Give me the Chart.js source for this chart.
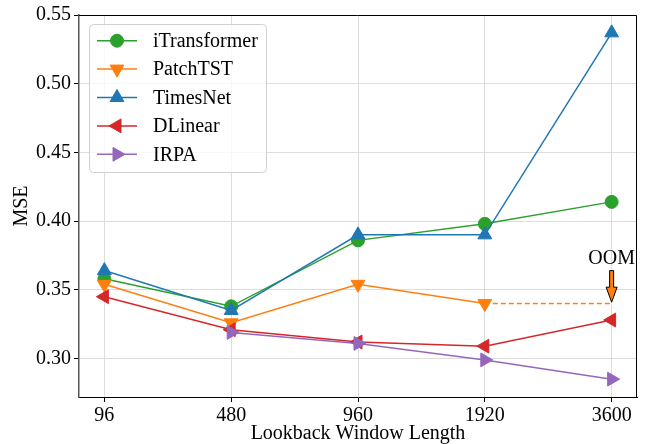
<!DOCTYPE html>
<html>
<head>
<meta charset="utf-8">
<script src="https://cdn.jsdelivr.net/npm/chart.js@4"></script>
<style>
  html, body { margin: 0; padding: 0; background: #fff; }
  #wrap { width: 646px; height: 444px; }
</style>
</head>
<body>
<div id="wrap"><canvas id="c" width="646" height="444"></canvas></div>
<script>
const lookback = ['96', '480', '960', '1920', '3600'];
const yTicks = [0.30, 0.35, 0.40, 0.45, 0.50, 0.55];

const iTransformer = [0.358, 0.338, 0.386, 0.398, 0.414];
const patchTST = [0.354, 0.326, 0.354, 0.340, null];
const patchTSTOom = [null, null, null, 0.340, 0.340]; // dashed, ran out of memory at 3600
const timesNet = [0.364, 0.335, 0.390, 0.390, 0.537];
const dLinear = [0.345, 0.321, 0.312, 0.309, 0.328];
const irpa = [null, 0.319, 0.311, 0.299, 0.285];

const oomLabel = 'OOM';
const oomArrow = {index: 4, from: 0.364, to: 0.341};

const FONT = '"Liberation Serif", "Times New Roman", serif';

function pts(arr) {
  return arr.map((v, i) => ({x: i, y: v}));
}

function series(label, data, color, style, rotation, radius, order) {
  return {
    label, data: pts(data),
    borderColor: color, backgroundColor: color,
    borderWidth: 1.5,
    pointStyle: style, rotation,
    pointRadius: radius, pointHoverRadius: radius,
    pointBorderWidth: 1,
    order
  };
}

const datasets = [
  series('iTransformer', iTransformer, '#2ca02c', 'circle', 0, 6.5, 5),
  series('PatchTST', patchTST, '#ff7f0e', 'triangle', 180, 8, 4),
  series('TimesNet', timesNet, '#1f77b4', 'triangle', 0, 8, 3),
  series('DLinear', dLinear, '#d62728', 'triangle', -90, 8, 2),
  series('IRPA', irpa, '#9467bd', 'triangle', 90, 8, 1),
  {
    label: '_oom', data: pts(patchTSTOom),
    borderColor: '#ff7f0e', borderWidth: 1.5, borderDash: [5, 3],
    pointRadius: 0, order: 6
  }
];

// matplotlib-style legend inside the plot + frame + OOM arrow
const extras = {
  id: 'extras',
  afterDraw(chart) {
    const {ctx, chartArea: a, scales: {x, y}} = chart;
    ctx.save();
    // top / right spines
    ctx.strokeStyle = '#000';
    ctx.lineWidth = 1;
    ctx.beginPath();
    ctx.moveTo(a.left, a.top + 0.5);
    ctx.lineTo(a.right - 0.5, a.top + 0.5);
    ctx.lineTo(a.right - 0.5, a.bottom);
    ctx.stroke();

    // OOM arrow
    const ax = x.getPixelForValue(oomArrow.index);
    const y0 = y.getPixelForValue(oomArrow.from);
    const y1 = y.getPixelForValue(oomArrow.to);
    const headH = 15, headW = 5.5, shaftW = 2;
    ctx.beginPath();
    ctx.moveTo(ax - shaftW, y0);
    ctx.lineTo(ax + shaftW, y0);
    ctx.lineTo(ax + shaftW, y1 - headH);
    ctx.lineTo(ax + headW, y1 - headH);
    ctx.lineTo(ax, y1);
    ctx.lineTo(ax - headW, y1 - headH);
    ctx.lineTo(ax - shaftW, y1 - headH);
    ctx.closePath();
    ctx.fillStyle = '#ff7f0e';
    ctx.fill();
    ctx.strokeStyle = '#000';
    ctx.lineWidth = 1;
    ctx.stroke();
    ctx.fillStyle = '#000';
    ctx.font = '20px ' + FONT;
    ctx.textAlign = 'center';
    ctx.textBaseline = 'alphabetic';
    ctx.fillText(oomLabel, ax, y0 - 7);

    // legend
    const lx = 89, ly = 24, lw = 177, lh = 148, rowH = 28.4;
    ctx.beginPath();
    ctx.roundRect(lx + 0.5, ly + 0.5, lw, lh, 4);
    ctx.fillStyle = 'rgba(255,255,255,0.8)';
    ctx.fill();
    ctx.strokeStyle = '#d0d0d0';
    ctx.stroke();
    ctx.textAlign = 'left';
    ctx.textBaseline = 'middle';
    chart.data.datasets.slice(0, 5).forEach((ds, i) => {
      const cy = ly + 16.7 + i * rowH;
      ctx.strokeStyle = ds.borderColor;
      ctx.lineWidth = 1.5;
      ctx.beginPath();
      ctx.moveTo(lx + 8, cy);
      ctx.lineTo(lx + 48, cy);
      ctx.stroke();
      ctx.fillStyle = ds.backgroundColor;
      ctx.strokeStyle = ds.borderColor;
      ctx.lineWidth = 1;
      Chart.helpers.drawPoint(ctx, {
        pointStyle: ds.pointStyle, rotation: ds.rotation,
        radius: ds.pointRadius, borderWidth: 1
      }, lx + 28, cy);
      ctx.fillStyle = '#000';
      ctx.fillText(ds.label, lx + 64, cy + 1);
    });
    ctx.restore();
  }
};

new Chart(document.getElementById('c'), {
  type: 'line',
  data: {datasets},
  options: {
    responsive: false,
    animation: false,
    layout: {padding: {left: 0, top: 15, right: 6, bottom: 0}},
    plugins: {legend: {display: false}, tooltip: {enabled: false}},
    scales: {
      x: {
        type: 'linear', min: -0.2, max: 4.2,
        afterBuildTicks: s => { s.ticks = lookback.map((_, i) => ({value: i})); },
        afterFit: s => { s.height = 47; },
        ticks: {
          callback: v => lookback[v],
          font: {family: FONT, size: 20}, color: '#000', padding: 2,
          maxRotation: 0
        },
        grid: {color: '#dddddd', tickColor: '#000', tickLength: 5},
        border: {color: '#000', width: 1},
        title: {
          display: true, text: 'Lookback Window Length',
          font: {family: FONT, size: 20, lineHeight: 1.0}, color: '#000',
          padding: {top: 0, bottom: 0}
        }
      },
      y: {
        min: 0.272, max: 0.55,
        afterBuildTicks: s => { s.ticks = yTicks.map(v => ({value: v})); },
        afterFit: s => { s.width = 79; },
        ticks: {
          callback: v => v.toFixed(2),
          font: {family: FONT, size: 20}, color: '#000', padding: 3
        },
        grid: {color: '#dddddd', tickColor: '#000', tickLength: 5},
        border: {color: '#555', width: 1.5},
        title: {
          display: true, text: 'MSE',
          font: {family: FONT, size: 20}, color: '#000',
          padding: {top: 10, bottom: 0}
        }
      }
    }
  },
  plugins: [extras]
});
</script>
</body>
</html>
